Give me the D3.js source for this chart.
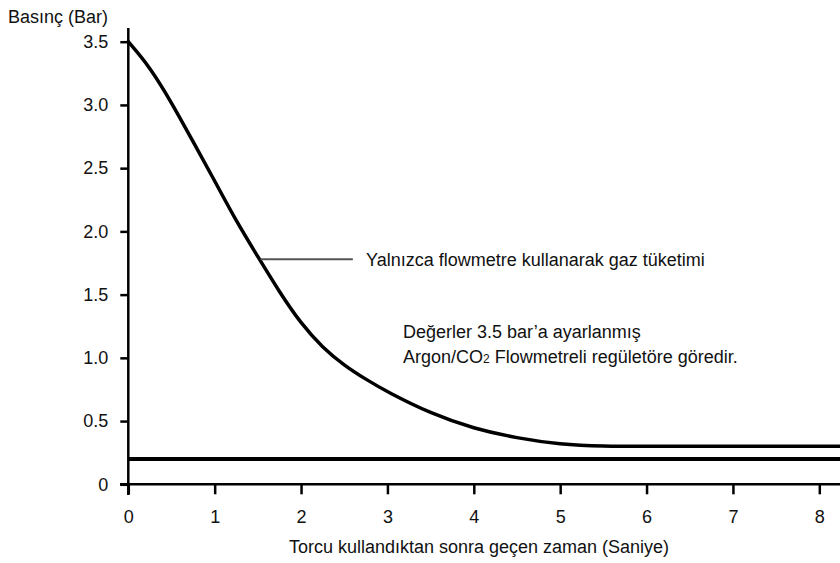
<!DOCTYPE html>
<html>
<head>
<meta charset="utf-8">
<script src="https://cdn.jsdelivr.net/npm/d3@7.9.0/dist/d3.min.js"></script>
<style>
  body { margin: 0; background: #fff; }
  svg { display: block; }
  text { font-family: "Liberation Sans Narrow", "Arial Narrow", "Liberation Sans", sans-serif; fill: #111; }
</style>
</head>
<body>
<div id="chart"></div>
<script>
// pressure curve (seconds, bar)
const curveTime = [0, 0.25, 0.5, 0.75, 1.0, 1.25, 1.5, 1.75, 2.0, 2.25, 2.5, 2.75, 3.0, 3.5, 4.0, 4.5, 5.0, 5.5, 6, 7, 8, 8.25];
const curvePressure = [3.5, 3.3, 3.02, 2.71, 2.4, 2.08, 1.8, 1.52, 1.27, 1.08, 0.94, 0.83, 0.73, 0.56, 0.44, 0.365, 0.315, 0.3, 0.3, 0.3, 0.3, 0.3];
// horizontal reference level
const refLevel = 0.2;
const refTime = [0, 8.25];

const xTicks = [0, 1, 2, 3, 4, 5, 6, 7, 8];
const yTicks = [0, 0.5, 1.0, 1.5, 2.0, 2.5, 3.0, 3.5];

const yLabel = "Basınç (Bar)";
const xLabel = "Torcu kullandıktan sonra geçen zaman (Saniye)";
const curveLabel = "Yalnızca flowmetre kullanarak gaz tüketimi";
const noteLine1 = "Değerler 3.5 bar’a ayarlanmış";

const width = 840;
const height = 563;

const svg = d3.select("#chart").append("svg")
  .attr("width", width)
  .attr("height", height);

const x = d3.scaleLinear().domain([0, 8]).range([128.3, 819.3]);
const y = d3.scaleLinear().domain([0, 3.5]).range([484.3, 41.7]);

const fontSize = 18;

// axis lines
svg.append("line")
  .attr("x1", x(0)).attr("x2", x(0))
  .attr("y1", 28).attr("y2", 495)
  .attr("stroke", "#000").attr("stroke-width", 2.5);
svg.append("line")
  .attr("x1", 120).attr("x2", width)
  .attr("y1", y(0)).attr("y2", y(0))
  .attr("stroke", "#000").attr("stroke-width", 2.5);

const yAxis = svg.append("g")
  .attr("transform", `translate(${x(0)},0)`)
  .call(d3.axisLeft(y)
    .tickValues(yTicks)
    .tickSize(8)
    .tickPadding(12)
    .tickFormat((d) => (d === 0 ? "0" : d.toFixed(1))));
yAxis.select(".domain").remove();
yAxis.selectAll("line").attr("stroke", "#000").attr("stroke-width", 2.5);
yAxis.selectAll("text").attr("font-size", fontSize).attr("font-family", null);

const xAxis = svg.append("g")
  .attr("transform", `translate(0,${y(0)})`)
  .call(d3.axisBottom(x)
    .tickValues(xTicks)
    .tickSize(10)
    .tickPadding(16)
    .tickFormat(d3.format("d")));
xAxis.select(".domain").remove();
xAxis.selectAll("line").attr("stroke", "#000").attr("stroke-width", 2.5);
xAxis.selectAll("text").attr("font-size", fontSize).attr("font-family", null);

// reference line at 0.2 bar
svg.append("path")
  .datum(refTime.map((t) => [t, refLevel]))
  .attr("fill", "none")
  .attr("stroke", "#000")
  .attr("stroke-width", 4)
  .attr("d", d3.line().x((d) => x(d[0])).y((d) => y(d[1])));

// consumption curve
const curve = curveTime.map((t, i) => [t, curvePressure[i]]);
svg.append("path")
  .datum(curve)
  .attr("fill", "none")
  .attr("stroke", "#000")
  .attr("stroke-width", 3.5)
  .attr("stroke-linecap", "round")
  .attr("d", d3.line().curve(d3.curveBasis).x((d) => x(d[0])).y((d) => y(d[1])));

// annotation leader
svg.append("line")
  .attr("x1", x(1.53)).attr("x2", x(2.6))
  .attr("y1", y(1.78)).attr("y2", y(1.78))
  .attr("stroke", "#555").attr("stroke-width", 2);

svg.append("text")
  .attr("x", 366).attr("y", y(1.78) + 6.5)
  .attr("font-size", fontSize)
  .text(curveLabel);

svg.append("text")
  .attr("x", 403).attr("y", 338)
  .attr("font-size", fontSize)
  .text(noteLine1);

const note2 = svg.append("text")
  .attr("x", 403).attr("y", 362.5)
  .attr("font-size", fontSize);
note2.append("tspan").text("Argon/CO");
note2.append("tspan").attr("font-size", 12).text("2");
note2.append("tspan").text(" Flowmetreli regületöre göredir.");

// axis titles
svg.append("text")
  .attr("x", 8).attr("y", 23)
  .attr("font-size", fontSize)
  .text(yLabel);

svg.append("text")
  .attr("x", 479).attr("y", 553)
  .attr("text-anchor", "middle")
  .attr("font-size", fontSize)
  .text(xLabel);
</script>
</body>
</html>
